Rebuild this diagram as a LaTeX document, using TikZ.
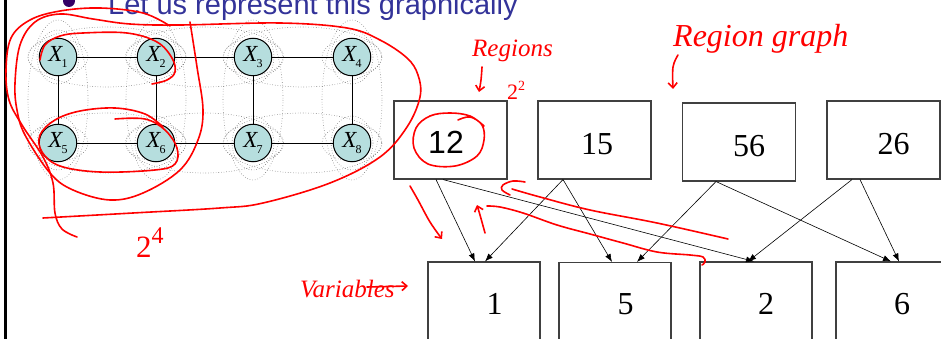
\documentclass[tikz,border=0pt]{standalone}
\usepackage{fontspec}
\setmainfont{Liberation Serif}
\newfontfamily\arialfont{Liberation Sans}
\usetikzlibrary{arrows.meta}
\definecolor{titleblue}{RGB}{51,51,153}
\definecolor{bulletpurple}{RGB}{51,0,102}
\definecolor{nodefill}{RGB}{182,222,222}
\definecolor{inkred}{RGB}{255,0,0}
\begin{document}
\begin{tikzpicture}[x=1pt,y=-1pt,
  var/.style={circle, draw=black, line width=1pt, fill=nodefill, minimum size=37.5pt, inner sep=0pt},
  rbox/.style={draw=black!75, line width=1.1pt, rectangle, minimum width=113pt, minimum height=78pt, inner sep=0pt},
  vbox/.style={draw=black!75, line width=1.1pt, rectangle, minimum width=112pt, minimum height=100pt, inner sep=0pt},
  num/.style={font=\fontsize{32}{32}\selectfont, inner sep=0pt},
  gedge/.style={line width=0.8pt},
  rarrow/.style={line width=0.6pt, -{Latex[length=8pt,width=6pt]}},
  dotsh/.style={black!50, dotted, line width=0.6pt},
  ink/.style={inkred, line width=1.6pt, line cap=round, line join=round},
  inkarrow/.style={ink, -{Straight Barb[length=5pt,width=9pt]}},
  hand/.style={inkred, inner sep=0pt}
]
\useasboundingbox (0,0) rectangle (941,339);
\clip (0,0) rectangle (941,339);

% left rule
\draw[line width=2.6pt] (5.3,0) -- (5.3,339);

% title
\fill[bulletpurple] (69,1) circle (6);
\node[anchor=base west, inner sep=0pt, text=titleblue, font=\arialfont\fontsize{29}{29}\selectfont] (title) at (108,14.5) {Let us represent this graphically};

% dotted region outlines
\foreach \x in {58,156,253,352}{
  \draw[dotsh] (\x,100) ellipse [x radius=30, y radius=80];
  \draw[dotsh] (\x,57) ellipse [x radius=30, y radius=18];
  \draw[dotsh] (\x,143) ellipse [x radius=30, y radius=18];
  \draw[dotsh] (\x,57) ellipse [x radius=21, y radius=27];
  \draw[dotsh] (\x,143) ellipse [x radius=21, y radius=27];
}
\foreach \x in {107,204.5,302.5}{
  \draw[dotsh] (\x,57) ellipse [x radius=79, y radius=30];
  \draw[dotsh] (\x,143) ellipse [x radius=79, y radius=30];
}

% grid graph
\node[var] (X1) at (58,57) {\fontsize{23}{23}\selectfont\itshape X\kern-1pt\raisebox{-6pt}{\fontsize{12}{12}\selectfont\upshape 1}};
\node[var] (X2) at (156,57) {\fontsize{23}{23}\selectfont\itshape X\kern-1pt\raisebox{-6pt}{\fontsize{12}{12}\selectfont\upshape 2}};
\node[var] (X3) at (253,57) {\fontsize{23}{23}\selectfont\itshape X\kern-1pt\raisebox{-6pt}{\fontsize{12}{12}\selectfont\upshape 3}};
\node[var] (X4) at (352,57) {\fontsize{23}{23}\selectfont\itshape X\kern-1pt\raisebox{-6pt}{\fontsize{12}{12}\selectfont\upshape 4}};
\node[var] (X5) at (58,143) {\fontsize{23}{23}\selectfont\itshape X\kern-1pt\raisebox{-6pt}{\fontsize{12}{12}\selectfont\upshape 5}};
\node[var] (X6) at (156,143) {\fontsize{23}{23}\selectfont\itshape X\kern-1pt\raisebox{-6pt}{\fontsize{12}{12}\selectfont\upshape 6}};
\node[var] (X7) at (253,143) {\fontsize{23}{23}\selectfont\itshape X\kern-1pt\raisebox{-6pt}{\fontsize{12}{12}\selectfont\upshape 7}};
\node[var] (X8) at (352,143) {\fontsize{23}{23}\selectfont\itshape X\kern-1pt\raisebox{-6pt}{\fontsize{12}{12}\selectfont\upshape 8}};
\draw[gedge] (X1) -- (X2); \draw[gedge] (X2) -- (X3); \draw[gedge] (X3) -- (X4);
\draw[gedge] (X5) -- (X6); \draw[gedge] (X6) -- (X7); \draw[gedge] (X7) -- (X8);
\draw[gedge] (X1) -- (X5); \draw[gedge] (X2) -- (X6); \draw[gedge] (X3) -- (X7); \draw[gedge] (X4) -- (X8);

% region boxes
\node[rbox] (r12) at (450.5,140) {};
\node[rbox] (r15) at (594.5,140) {};
\node[rbox] (r56) at (739,142) {};
\node[rbox] (r26) at (883.5,140) {};
\node[num, font=\arialfont\fontsize{32}{32}\selectfont] (t12) at (446,142) {12};
\node[num] (t15) at (597,144) {15};
\node[num] (t56) at (749,146) {56};
\node[num] (t26) at (893.5,143.7) {26};

% variable boxes
\node[vbox] (v1) at (484,312) {};
\node[vbox] (v5) at (615,312.5) {};
\node[vbox] (v2) at (756,312) {};
\node[vbox] (v6) at (892,312) {};
\node[num] (t1) at (494.5,304) {1};
\node[num] (t5) at (625.5,304) {5};
\node[num] (t2) at (766,304) {2};
\node[num] (t6) at (902,304) {6};

% region graph arrows
\draw[rarrow] ([xshift=-14.5pt]r12.south) -- ([xshift=-9pt]v1.north);
\draw[rarrow] ([xshift=-7.5pt]r12.south) -- ([xshift=-2pt]v2.north);
\draw[rarrow] ([xshift=-31.5pt]r15.south) -- ([xshift=1pt]v1.north);
\draw[rarrow] ([xshift=-31.5pt]r15.south) -- ([xshift=-3pt]v5.north);
\draw[rarrow] ([xshift=-23pt]r56.south) -- ([xshift=22pt]v5.north);
\draw[rarrow] ([xshift=-23pt]r56.south) -- ([xshift=-1pt]v6.north);
\draw[rarrow] ([xshift=-31.5pt]r26.south) -- ([xshift=-8pt]v2.north);
\draw[rarrow] ([xshift=-23.5pt]r26.south) -- ([xshift=7pt]v6.north);

% red ink annotations
\draw[ink] plot[smooth, tension=0.6] coordinates {(170,26) (143,13) (100,8) (60,11) (30,20) (11,38) (6,70) (9,100) (22,125) (43,157) (53,183) (55,213) (62,229) (77,237)};
\draw[ink] plot[smooth, tension=0.6] coordinates {(43,218) (133,213) (220,208) (263,203) (330,183) (380,157) (407,127) (420,97) (418,75) (407,58) (380,40) (347,28) (280,23) (180,25) (130,24) (93,19) (60,14) (35,22) (20,45) (15,83) (17,110) (25,135) (50,173) (73,190) (110,200) (143,193) (180,170) (198,140) (203,110) (197,67) (190,22)};
\draw[ink] plot[smooth, tension=0.6] coordinates {(40,60) (45,45) (60,36) (83,33) (127,33) (157,42) (172,58) (175,72) (167,80) (152,84)};
\draw[ink] plot[smooth, tension=0.6] coordinates {(115,119) (145,119) (165,130) (177,148) (175,164) (155,170) (100,172) (60,166) (42,152) (40,135) (55,120) (80,111) (115,108) (145,114) (163,127)};
\draw[ink] plot[smooth, tension=0.6] coordinates {(458,120) (470,117) (482,125) (484,140) (477,156) (455,166) (428,164) (414,148) (416,128) (430,116) (450,113) (470,116) (484,126)};
\draw[inkarrow] plot[smooth, tension=0.6] coordinates {(410,186) (418,200) (430,222) (442,239)};
\draw[inkarrow] plot[smooth, tension=0.6] coordinates {(485,233) (480,215) (477,205)};
\draw[ink] plot[smooth, tension=0.6] coordinates {(728,239) (657,223) (590,210) (540,197) (512,189)};
\draw[ink] plot[smooth, tension=0.6] coordinates {(525,182) (513,181) (503,185) (502,190) (510,195)};
\draw[ink] plot[smooth, tension=0.6] coordinates {(487,206) (500,207) (523,213) (557,225) (590,234) (623,243) (657,252) (690,255) (703,257) (705,262) (702,265)};
\draw[inkarrow] (367,287) -- (408,286);
\draw[inkarrow] plot[smooth, tension=0.6] coordinates {(482,67) (481,80) (479,92)};
\draw[inkarrow] plot[smooth, tension=0.6] coordinates {(678,55) (673,67) (673,89)};

\node[hand, anchor=base west, font=\itshape\fontsize{32}{32}\selectfont] (rgraph) at (673,47) {Region graph};
\node[hand, anchor=base west, font=\itshape\fontsize{25}{25}\selectfont] (regions) at (472,57) {Regions};
\node[hand, anchor=base west, font=\itshape\fontsize{25}{25}\selectfont] (variables) at (300,297) {Variables};
\node[hand, anchor=base west, font=\fontsize{22}{22}\selectfont] (twosq) at (507,100) {2\raisebox{9pt}{\fontsize{14}{14}\selectfont 2}};
\node[hand, anchor=base west, font=\fontsize{31}{31}\selectfont] (twofour) at (136,257) {2\raisebox{14pt}{\fontsize{24}{24}\selectfont 4}};
\end{tikzpicture}
\end{document}
